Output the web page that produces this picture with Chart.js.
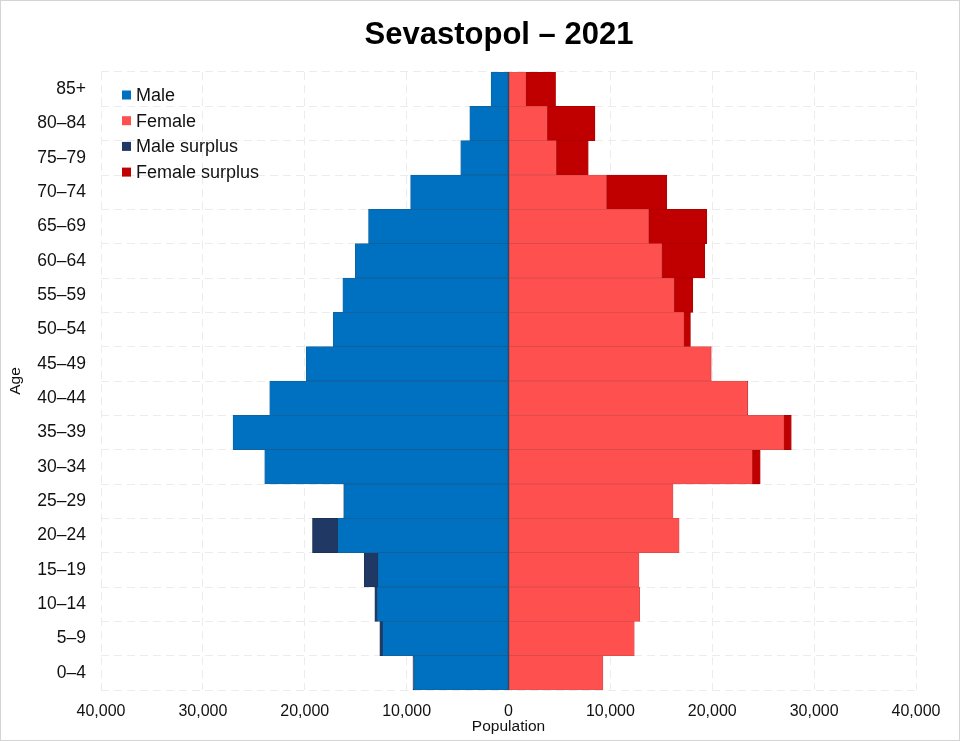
<!DOCTYPE html>
<html>
<head>
<meta charset="utf-8">
<script src="https://cdn.jsdelivr.net/npm/chart.js@4"></script>
<style>
  html, body { margin: 0; padding: 0; background: #fff; }
  #wrap { width: 960px; height: 741px; box-sizing: border-box; border: 1px solid #d4d4d4; }
</style>
</head>
<body>
<div id="wrap"><canvas id="canvas" width="958" height="739"></canvas></div>
<script>
var ageGroups = ['85+', '80–84', '75–79', '70–74', '65–69', '60–64', '55–59', '50–54', '45–49',
  '40–44', '35–39', '30–34', '25–29', '20–24', '15–19', '10–14', '5–9', '0–4'];
var male = [1710, 3800, 4690, 9610, 13740, 15040, 16260, 17210, 19860,
  23440, 27040, 23930, 16170, 19240, 14160, 13120, 12630, 9380];
var female = [4620, 8490, 7830, 15540, 19470, 19270, 18090, 17860, 19900,
  23500, 27760, 24710, 16150, 16750, 12810, 12880, 12350, 9270];
var xTicks = [-40000, -30000, -20000, -10000, 0, 10000, 20000, 30000, 40000];

// common part and surplus per age group
var maleCommon = [], femaleCommon = [], maleSurplus = [], femaleSurplus = [];
for (var i = 0; i < male.length; i++) {
  var c = Math.min(male[i], female[i]);
  maleCommon.push(-c);
  femaleCommon.push(c);
  maleSurplus.push(-(male[i] - c));
  femaleSurplus.push(female[i] - c);
}

var FONT = "'Liberation Sans', Arial, sans-serif";

// dark line where the male and female bars meet
var zeroLine = {
  id: 'zeroLine',
  afterDatasetsDraw: function (chart) {
    var ctx = chart.ctx;
    var x = chart.scales.x.getPixelForValue(0);
    var y0 = chart.scales.y.getPixelForValue(0) - chart.scales.y.getPixelForValue(1) / 2;
    var meta = chart.getDatasetMeta(0);
    var top = meta.data[0].y - meta.data[0].height / 2;
    var bottom = meta.data[meta.data.length - 1].y + meta.data[0].height / 2;
    ctx.save();
    ctx.strokeStyle = '#2e4a66';
    ctx.lineWidth = 1.3;
    ctx.beginPath();
    ctx.moveTo(x, top);
    ctx.lineTo(x, bottom);
    ctx.stroke();
    ctx.restore();
  }
};

// title and legend drawn by hand so they sit where the original has them
var titleAndLegend = {
  id: 'titleAndLegend',
  afterDraw: function (chart) {
    var ctx = chart.ctx;
    var area = chart.chartArea;
    ctx.save();
    ctx.fillStyle = '#000';
    ctx.font = 'bold 31px ' + FONT;
    ctx.textAlign = 'center';
    ctx.textBaseline = 'middle';
    ctx.fillText('Sevastopol – 2021', 498, 34);

    ctx.font = '18px ' + FONT;
    ctx.textAlign = 'left';
    chart.data.datasets.forEach(function (ds, k) {
      var y = area.top + 23 + k * 25.7;
      ctx.fillStyle = ds.backgroundColor;
      ctx.fillRect(area.left + 21, y - 4.5, 9, 9);
      ctx.fillStyle = '#111';
      ctx.fillText(ds.label, area.left + 35, y + 1);
    });
    ctx.restore();
  }
};

var ctx = document.getElementById('canvas').getContext('2d');
var chart = new Chart(ctx, {
  type: 'bar',
  data: {
    labels: ageGroups,
    datasets: [{
      label: 'Male',
      data: maleCommon,
      backgroundColor: '#0070c0',
      borderColor: '#145f96'
    }, {
      label: 'Female',
      data: femaleCommon,
      backgroundColor: '#ff5050',
      borderColor: '#d84a4a'
    }, {
      label: 'Male surplus',
      data: maleSurplus,
      backgroundColor: '#1f3864',
      borderColor: '#1a2f55'
    }, {
      label: 'Female surplus',
      data: femaleSurplus,
      backgroundColor: '#c00000',
      borderColor: '#a80000'
    }]
  },
  options: {
    indexAxis: 'y',
    responsive: false,
    animation: false,
    datasets: {
      bar: {
        barPercentage: 1,
        categoryPercentage: 1,
        borderWidth: 0.75,
        borderSkipped: false
      }
    },
    layout: { padding: { left: 0, right: 43, top: 71, bottom: 0 } },
    scales: {
      x: {
        stacked: true,
        min: -40000,
        max: 40000,
        afterBuildTicks: function (scale) {
          scale.ticks = xTicks.map(function (v) { return { value: v }; });
        },
        afterFit: function (scale) { scale.height = 50; },
        grid: { color: '#ececec', lineWidth: 1, drawTicks: false },
        border: { display: false, dash: [8, 5] },
        ticks: {
          padding: 12,
          color: '#111',
          font: { family: FONT, size: 16 },
          maxRotation: 0,
          callback: function (v) { return Math.abs(v).toLocaleString('en-US'); }
        },
        title: {
          display: true,
          text: 'Population',
          color: '#111',
          font: { family: FONT, size: 15.5 },
          padding: { top: 2, bottom: 4 }
        }
      },
      y: {
        stacked: true,
        afterFit: function (scale) { scale.width = 100; },
        grid: { color: '#ececec', lineWidth: 1, drawTicks: false },
        border: { display: false, dash: [8, 5] },
        ticks: {
          padding: 15,
          color: '#111',
          font: { family: FONT, size: 17.5 }
        },
        title: {
          display: true,
          text: 'Age',
          color: '#111',
          font: { family: FONT, size: 15.5 },
          padding: { top: 5, bottom: 0 }
        }
      }
    },
    plugins: {
      legend: { display: false },
      tooltip: { enabled: false },
      title: { display: false }
    }
  },
  plugins: [zeroLine, titleAndLegend]
});
</script>
</body>
</html>
